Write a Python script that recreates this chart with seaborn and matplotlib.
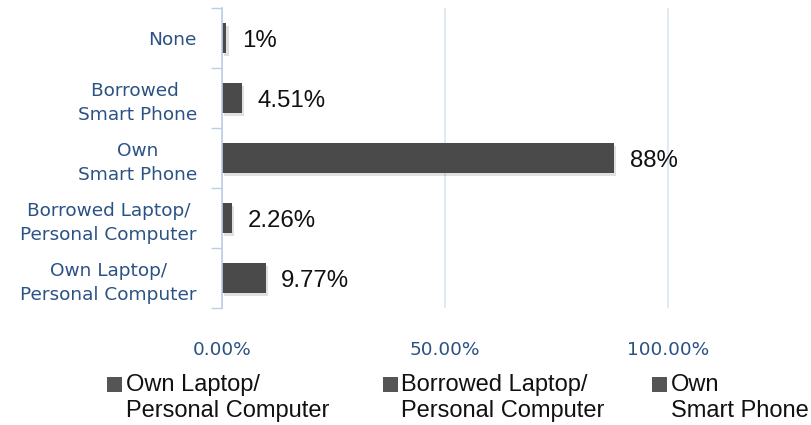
import matplotlib
matplotlib.use("Agg")
import matplotlib.pyplot as plt
import matplotlib.patheffects as pe
from matplotlib.patches import Rectangle
from matplotlib.ticker import FixedLocator, PercentFormatter
import seaborn as sns
import pandas as pd

# Data
categories = ["None", "Borrowed \nSmart Phone", "Own\nSmart Phone",
              "Borrowed Laptop/\nPersonal Computer", "Own Laptop/\nPersonal Computer"]
values = [0.01, 0.0451, 0.88, 0.0226, 0.0977]
value_labels = ["1%", "4.51%", "88%", "2.26%", "9.77%"]
x_ticks = [0.0, 0.5, 1.0]
legend_labels = ["Own Laptop/\nPersonal Computer", "Borrowed Laptop/\nPersonal Computer", "Own\nSmart Phone"]

df = pd.DataFrame({"category": categories, "value": values})

sns.set_theme(style="white")
plt.rcParams["font.family"] = ["DejaVu Sans"]

label_blue = "#2b5284"
bar_color = "#4a4a4a"
grid_color = "#dbe5f2"
spine_color = "#bccde5"

fig = plt.figure(figsize=(8.11, 4.25), dpi=100)
ax = fig.add_axes([222 / 811, 1 - 308 / 425, 535 / 811, 300 / 425])

sns.barplot(data=df, x="value", y="category", orient="h", color=bar_color,
            width=0.5, saturation=1, ax=ax, zorder=3)

for p in ax.patches:
    p.set_path_effects([pe.SimplePatchShadow(offset=(1.5, -2), alpha=0.12, shadow_rgbFace="#000000"),
                        pe.Normal()])
    p.set_edgecolor("none")

ax.set_xlim(0, 1.2)
ax.set_ylim(4.5, -0.5)

for i, (v, lab) in enumerate(zip(values, value_labels)):
    ax.annotate(lab, xy=(v, i), xytext=(11, -2), textcoords="offset points",
                va="center", ha="left", fontsize=17.3, family="Liberation Sans",
                color="#111111")

ax.set_xticks(x_ticks)
ax.xaxis.set_major_formatter(PercentFormatter(xmax=1, decimals=2))
ax.set_xlabel("")
ax.set_ylabel("")
ax.tick_params(axis="x", length=0, pad=24, labelsize=13.3, labelcolor=label_blue)
ax.tick_params(axis="y", which="major", length=0, pad=18, labelsize=13.3, labelcolor=label_blue)
for t in ax.get_yticklabels():
    t.set_multialignment("center")
    t.set_linespacing(1.4)

ax.yaxis.set_minor_locator(FixedLocator([-0.5, 0.5, 1.5, 2.5, 3.5, 4.5]))
ax.tick_params(axis="y", which="minor", left=True, length=8, width=1, color=spine_color, direction="out")

ax.grid(axis="x", color=grid_color, linewidth=1.2, zorder=0)
ax.grid(axis="y", visible=False)
for s in ["top", "right", "bottom"]:
    ax.spines[s].set_visible(False)
ax.spines["left"].set_color(spine_color)
ax.spines["left"].set_linewidth(1.2)
ax.spines["left"].set_zorder(4)

# Legend (manual, markers aligned to first text line)
leg_marker_x = [107, 383, 652]
leg_text_x = [126, 401, 671]
for mx, tx, lab in zip(leg_marker_x, leg_text_x, legend_labels):
    fig.patches.append(Rectangle((mx / 811, 1 - 392 / 425), 15 / 811, 15 / 425,
                                 transform=fig.transFigure, facecolor="#555555",
                                 edgecolor="none"))
    fig.text(tx / 811, 1 - 398 / 425, lab, ha="left", va="center", fontsize=17,
             family="Liberation Sans", color="#111111", linespacing=1.2)

fig.savefig("out.png", dpi=100)
